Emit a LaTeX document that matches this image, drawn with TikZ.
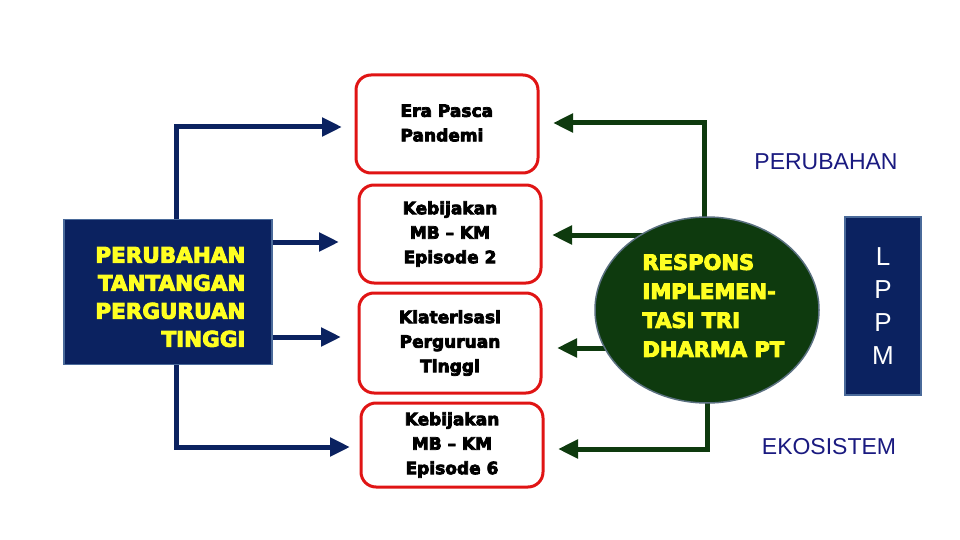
\documentclass[tikz,border=0pt]{standalone}
\usepackage{fontspec}
\setmainfont{Liberation Sans}
\newfontfamily\heavy{DejaVu Sans Bold}[FakeBold=4.5]
\usetikzlibrary{arrows.meta,shapes.geometric}
\definecolor{navy}{HTML}{0B2260}
\definecolor{navyedge}{HTML}{4A6A9A}
\definecolor{dgreen}{HTML}{0E3A0E}
\definecolor{gedge}{HTML}{5A7080}
\definecolor{redb}{HTML}{E01414}
\definecolor{lbl}{HTML}{1A1A80}
\definecolor{yel}{HTML}{FFFF22}
\tikzset{
  redbox/.style={draw=redb,line width=3pt,rounded corners=15pt,fill=white,minimum width=182pt,inner sep=0pt},
  boxtxt/.style={font=\heavy\fontsize{17}{24.5}\selectfont,align=center,text=black},
  barrow/.style={draw=navy,line width=5pt,-{Triangle[length=20pt,width=18pt]}},
  garrow/.style={draw=dgreen,line width=5pt,-{Triangle[length=20pt,width=18pt]}},
}
\begin{document}
\begin{tikzpicture}[x=1pt,y=-1pt]
\useasboundingbox[fill=white] (0,0) rectangle (960,540);
% left box
\node[draw=navyedge,line width=1.5pt,fill=navy,minimum width=208pt,minimum height=145pt,inner sep=0pt] (L) at (168,292) {};
\node[anchor=east,align=right,text=yel,font=\heavy\fontsize{21.5}{28}\selectfont] (Lt) at (249,297) {PERUBAHAN\\TANTANGAN\\PERGURUAN\\TINGGI};
% red boxes
\node[redbox,minimum height=98pt] (B1) at (447,124) {};
\node[anchor=west,align=left,text=black,font=\heavy\fontsize{17}{24.5}\selectfont] (B1t) at (397,123) {Era Pasca\\Pandemi};
\node[redbox,minimum height=98pt,boxtxt] (B2) at (450,234) {Kebijakan\\MB – KM\\Episode 2};
\node[redbox,minimum height=100pt,boxtxt] (B3) at (450,343) {Klaterisasi\\Perguruan\\Tinggi};
\node[redbox,minimum height=84pt,boxtxt] (B4) at (452,445) {Kebijakan\\MB – KM\\Episode 6};
% coordinates for left connectors
\coordinate (a1) at (176,127);
\coordinate (t1) at (342,127);
\coordinate (t2) at (339,242);
\coordinate (t3) at (341,337);
\coordinate (a4) at (176,447);
\coordinate (t4) at (350,447);
\draw[barrow] (L.north -| a1) -- (a1) -- (t1);
\draw[barrow] (L.east |- t2) -- (t2);
\draw[barrow] (L.east |- t3) -- (t3);
\draw[barrow] (L.south -| a4) -- (a4) -- (t4);
% green connectors
\coordinate (g1) at (704,123);
\coordinate (u1) at (553,123);
\coordinate (g2) at (660,235);
\coordinate (u2) at (552,235);
\coordinate (g3) at (640,348);
\coordinate (u3) at (557,348);
\coordinate (g4) at (707,449);
\coordinate (u4) at (558,449);
\coordinate (e1) at (704,260);
\coordinate (e4) at (707,360);
\draw[garrow] (e1) -- (g1) -- (u1);
\draw[garrow] (g2) -- (u2);
\draw[garrow] (g3) -- (u3);
\draw[garrow] (e4) -- (g4) -- (u4);
% ellipse
\node[ellipse,draw=gedge,line width=1.5pt,fill=dgreen,minimum width=224pt,minimum height=186pt,inner sep=0pt] (E) at (707,310) {};
\node[anchor=west,align=left,text=yel,font=\heavy\fontsize{21}{29}\selectfont] (Et) at (639,305.5) {RESPONS\\IMPLEMEN-\\TASI TRI\\DHARMA PT};
% LPPM
\node[draw=navyedge,line width=1.5pt,fill=navy,minimum width=76pt,minimum height=178pt,inner sep=0pt,text=white,align=center,font=\fontsize{26}{33}\selectfont] (P) at (883,306) {L\\P\\P\\M};
% labels
\node[text=lbl,font=\fontsize{23}{27}\selectfont] (per) at (826,162) {PERUBAHAN};
\node[text=lbl,font=\fontsize{23}{27}\selectfont] (eko) at (829,447) {EKOSISTEM};
\end{tikzpicture}
\end{document}
